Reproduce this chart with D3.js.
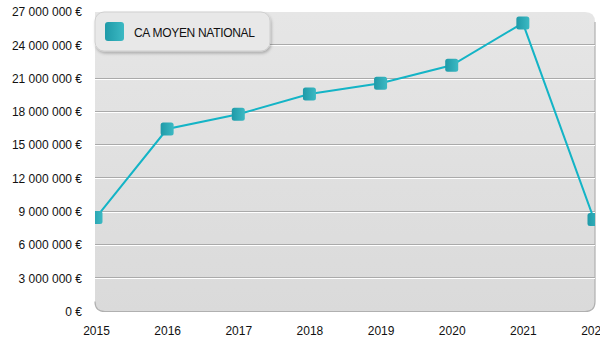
<!DOCTYPE html>
<html><head><meta charset="utf-8">
<script src="https://cdn.jsdelivr.net/npm/d3@7"></script>
<style>html,body{margin:0;padding:0;background:#fff;}svg{display:block;font-family:"Liberation Sans",Arial,sans-serif;}</style>
</head><body><svg id="c" width="600" height="350"></svg>
<script>
const years = ["2015","2016","2017","2018","2019","2020","2021","2022"];
const caMoyen = [8470000, 16450000, 17780000, 19600000, 20580000, 22200000, 26000000, 8300000];
const yTicks = [0,3000000,6000000,9000000,12000000,15000000,18000000,21000000,24000000,27000000];
const seriesName = "CA MOYEN NATIONAL";

const svg = d3.select("#c");
const L=95, R=595, T=12, B=311.5;
const x = d3.scalePoint().domain(years).range([L+1,R-1]);
const y = d3.scaleLinear().domain([0,27000000]).range([B,T]);
const defs = svg.append("defs");
const bg = defs.append("linearGradient").attr("id","bg").attr("x1",0).attr("y1",0).attr("x2",0).attr("y2",1);
bg.append("stop").attr("offset","0%").attr("stop-color","#e6e6e6");
bg.append("stop").attr("offset","100%").attr("stop-color","#dadada");
const mg = defs.append("linearGradient").attr("id","mg").attr("x1",0).attr("y1",0).attr("x2",1).attr("y2",0);
mg.append("stop").attr("offset","0%").attr("stop-color","#1f9aa8");
mg.append("stop").attr("offset","100%").attr("stop-color","#3cb9c3");
defs.append("clipPath").attr("id","clip").append("rect").attr("x",L).attr("y",T).attr("width",R-L).attr("height",B-T+1);
const sh = defs.append("filter").attr("id","sh").attr("x","-10%").attr("y","-20%").attr("width","130%").attr("height","160%");
sh.append("feDropShadow").attr("dx",1).attr("dy",2).attr("stdDeviation",1.5).attr("flood-color","#000").attr("flood-opacity",0.25);

// plot background with rounded corners
const r=10;
const path = `M${L},${T} H${R-r} Q${R},${T} ${R},${T+r} V${B-r} Q${R},${B} ${R-r},${B} H${L+r} Q${L},${B} ${L},${B-r} Z`;
svg.append("path").attr("d",path).attr("fill","url(#bg)");
svg.append("path").attr("d",`M${R},${T+r} V${B-r} Q${R},${B} ${R-r},${B} H${L+r} Q${L},${B} ${L},${B-r}`)
  .attr("fill","none").attr("stroke","#b0b0b0").attr("stroke-width",1.2);

// gridlines
const g = svg.append("g");
yTicks.filter(v=>v>0 && v<27000000).forEach(v=>{
  const yy = Math.round(y(v));
  g.append("line").attr("x1",L).attr("x2",R).attr("y1",yy-0.5).attr("y2",yy-0.5).attr("stroke","#aaaaaa");
  g.append("line").attr("x1",L).attr("x2",R).attr("y1",yy+0.5).attr("y2",yy+0.5).attr("stroke","#ffffff");
});

// axes labels
const fmt = v => d3.format(",")(v).replace(/,/g," ") + " €";
const ya = svg.append("g").attr("transform",`translate(${L-13},0)`)
  .call(d3.axisLeft(y).tickValues(yTicks).tickFormat(fmt).tickSize(0).tickPadding(0));
ya.select(".domain").remove();
ya.selectAll("text").attr("font-size",12).attr("fill","#111").attr("font-family","Liberation Sans, Arial, sans-serif");
const xa = svg.append("g").attr("transform",`translate(0,${B+13})`)
  .call(d3.axisBottom(x).tickSize(0).tickPadding(0));
xa.select(".domain").remove();
xa.selectAll("text").attr("font-size",12).attr("fill","#111").attr("dy","0.9em").attr("font-family","Liberation Sans, Arial, sans-serif");

// line + markers
const cg = svg.append("g").attr("clip-path","url(#clip)");
cg.append("path").datum(caMoyen)
  .attr("d", d3.line().x((d,i)=>x(years[i])).y(d=>y(d)))
  .attr("fill","none").attr("stroke","#14b4c6").attr("stroke-width",2);
cg.selectAll("rect.m").data(caMoyen).join("rect").attr("class","m")
  .attr("x",(d,i)=>x(years[i])-6.5).attr("y",d=>y(d)-6.5)
  .attr("width",13).attr("height",13).attr("rx",2.5)
  .attr("fill","url(#mg)");

// legend
const lg = svg.append("g");
lg.append("rect").attr("x",L).attr("y",T).attr("width",175).attr("height",39).attr("rx",9)
  .attr("fill","#e8e8e8").attr("stroke","#cfcfcf").attr("filter","url(#sh)");
lg.append("rect").attr("x",105).attr("y",22).attr("width",19).attr("height",19).attr("rx",3).attr("fill","url(#mg)");
lg.append("text").attr("x",134).attr("y",36.5).attr("font-size",12).attr("fill","#111")
  .attr("letter-spacing","-0.3").text(seriesName);
</script></body></html>
